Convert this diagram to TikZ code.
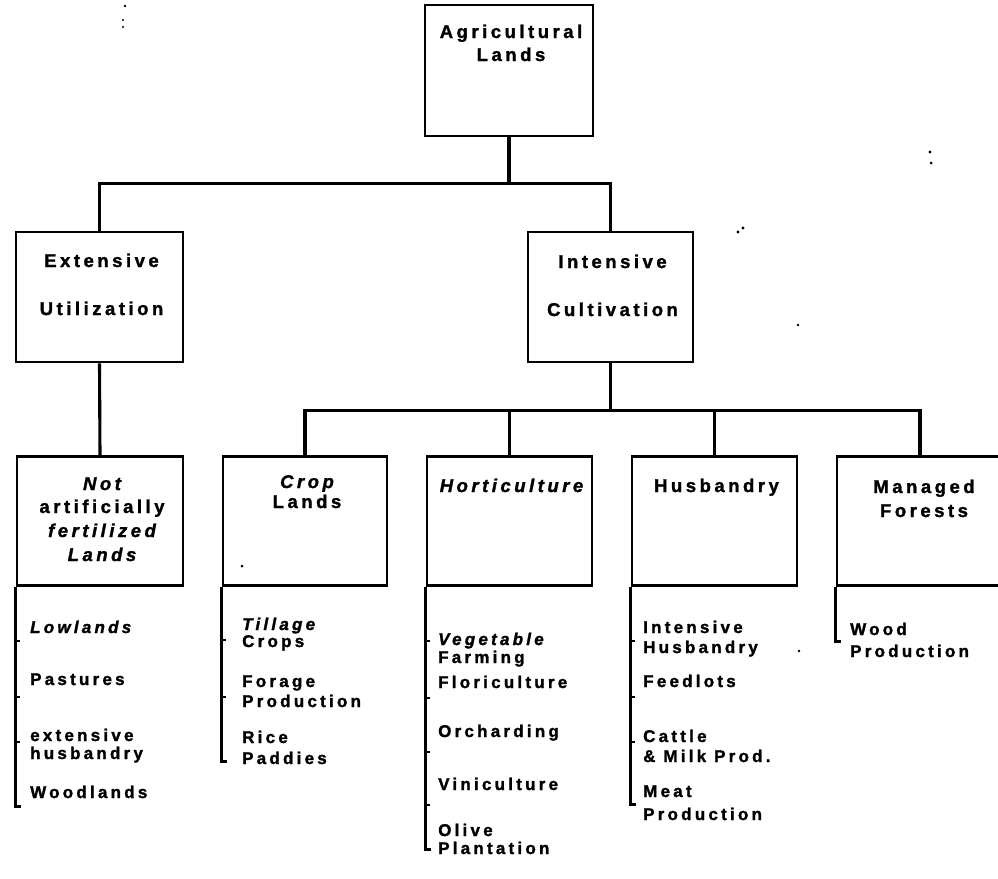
\documentclass[tikz,border=0pt]{standalone}
\usepackage{fontspec}
\newfontfamily\bxfont{Liberation Sans Bold}[LetterSpace=19,FakeBold=1.5]
\newfontfamily\bxifont{Liberation Sans Bold Italic}[LetterSpace=19,FakeBold=1.5]
\begin{document}
\begin{tikzpicture}[x=1pt,y=-1pt,
  box/.style={draw,line width=2.6pt,inner sep=0pt,minimum height=129pt,minimum width=#1},
  conn/.style={line width=3.1pt},
  tick/.style={line width=1.4pt},
  lbl/.style={font=\bxfont\fontsize{18.5}{20}\selectfont,anchor=base,inner sep=0pt},
  lbli/.style={lbl,font=\bxifont\fontsize{18.5}{20}\selectfont},
  itm/.style={font=\bxfont\fontsize{17}{18}\selectfont,anchor=base west,inner sep=0pt},
  itmi/.style={itm,font=\bxifont\fontsize{17}{18}\selectfont},
  speck/.style={fill=black}]
\useasboundingbox (0,0) rectangle (998,878);
\fill[white] (0,0) rectangle (998,878);

% boxes
\node[box=168pt,minimum height=131pt] (agri) at (509,70.5) {};
\node[box=167pt,minimum height=130pt] (ext) at (99.5,297) {};
\node[box=165pt,minimum height=130pt] (int) at (610.5,297) {};
\node[box=166pt] (notf) at (100,521) {};
\node[box=164pt] (crop) at (305,521) {};
\node[box=165pt] (hort) at (509.5,521) {};
\node[box=165pt] (husb) at (714.5,521) {};
\node[box=166pt] (manf) at (920,521) {};

% box labels
\node[lbl] (agri1) at (511,38) {Agricultural};
\node[lbl] (agri2) at (511,61) {Lands};
\node[lbl] (ext1) at (101.5,267) {Extensive};
\node[lbl] (ext2) at (101.5,315) {Utilization};
\node[lbl] (int1) at (612.5,268) {Intensive};
\node[lbl] (int2) at (612.5,316) {Cultivation};
\node[lbli] (notf1) at (102,490) {Not};
\node[lbl] (notf2) at (102,513) {artificially};
\node[lbli] (notf3) at (102,537) {fertilized};
\node[lbli] (notf4) at (102,561) {Lands};
\node[lbli] (crop1) at (307,488) {Crop};
\node[lbl] (crop2) at (307,508) {Lands};
\node[lbli] (hort1) at (511.5,492) {Horticulture};
\node[lbl] (husb1) at (716.5,492) {Husbandry};
\node[lbl] (manf1) at (924,493) {Managed};
\node[lbl] (manf2) at (924,517) {Forests};

% connectors
\draw[conn] (agri.south) -- ++(0,46) coordinate (j1);
\draw[conn] (ext.north) |- (j1) -| (int.north);
\draw[conn] (ext.south) -- (notf.north);
\draw[conn] (int.south) -- ++(0,47) coordinate (j2);
\draw[conn] (crop.north) |- (j2) -| (manf.north);
\draw[conn] (hort.north) -- (hort.north |- j2);
\draw[conn] (husb.north) -- (husb.north |- j2);

% list brackets
\draw[conn] (notf.south west) -- ++(0,220) coordinate (e1) -- ++(5,0);
\draw[conn] (crop.south west) -- ++(0,175) coordinate (e2) -- ++(5,0);
\draw[conn] (hort.south west) -- ++(0,263) coordinate (e3) -- ++(5,0);
\draw[conn] (husb.south west) -- ++(0,218) coordinate (e4) -- ++(5,0);
\draw[conn] (manf.south west) -- ++(0,55) coordinate (e5) -- ++(5,0);
\foreach \d in {54,110,155} \draw[tick] ([yshift=-\d pt]notf.south west) -- ++(4,0);
\foreach \d in {53,110} \draw[tick] ([yshift=-\d pt]crop.south west) -- ++(4,0);
\foreach \d in {54,111,165,218} \draw[tick] ([yshift=-\d pt]hort.south west) -- ++(4,0);
\foreach \d in {54,110,155} \draw[tick] ([yshift=-\d pt]husb.south west) -- ++(4,0);

% list items
\node[itmi] (a1) at (30,633) {Lowlands};
\node[itm] (a2) at (30,685) {Pastures};
\node[itm] (a3) at (30,741) {extensive};
\node[itm] (a3b) at (30,759) {husbandry};
\node[itm] (a4) at (30,798) {Woodlands};

\node[itmi] (b1) at (242,630) {Tillage};
\node[itm] (b1b) at (242,647) {Crops};
\node[itm] (b2) at (242,687) {Forage};
\node[itm] (b2b) at (242,707) {Production};
\node[itm] (b3) at (242,743) {Rice};
\node[itm] (b3b) at (242,764) {Paddies};

\node[itmi] (c1) at (438,645) {Vegetable};
\node[itm] (c1b) at (438,663) {Farming};
\node[itm] (c2) at (438,688) {Floriculture};
\node[itm] (c3) at (438,737) {Orcharding};
\node[itm] (c4) at (438,790) {Viniculture};
\node[itm] (c5) at (438,836) {Olive};
\node[itm] (c5b) at (438,854) {Plantation};

\node[itm] (d1) at (643,633) {Intensive};
\node[itm] (d1b) at (643,653) {Husbandry};
\node[itm] (d2) at (643,687) {Feedlots};
\node[itm] (d3) at (643,742) {Cattle};
\node[itm] (d3b) at (643,762) {\& Milk Prod.};
\node[itm] (d4) at (643,797) {Meat};
\node[itm] (d4b) at (643,820) {Production};

\node[itm] (f1) at (850,635) {Wood};
\node[itm] (f1b) at (850,657) {Production};

% specks
\fill[speck] (125,6) circle[radius=1.3];
\fill[speck] (123,20) circle[radius=1.2];
\fill[speck] (123,27) circle[radius=1.2];
\fill[speck] (738,232) circle[radius=1.6];
\fill[speck] (743,228) circle[radius=1.6];
\fill[speck] (930,152) circle[radius=1.6];
\fill[speck] (931,163) circle[radius=1.5];
\fill[speck] (798,325) circle[radius=1.3];
\fill[speck] (242,566) circle[radius=1.5];
\fill[speck] (799,651) circle[radius=1.3];
\end{tikzpicture}
\end{document}
